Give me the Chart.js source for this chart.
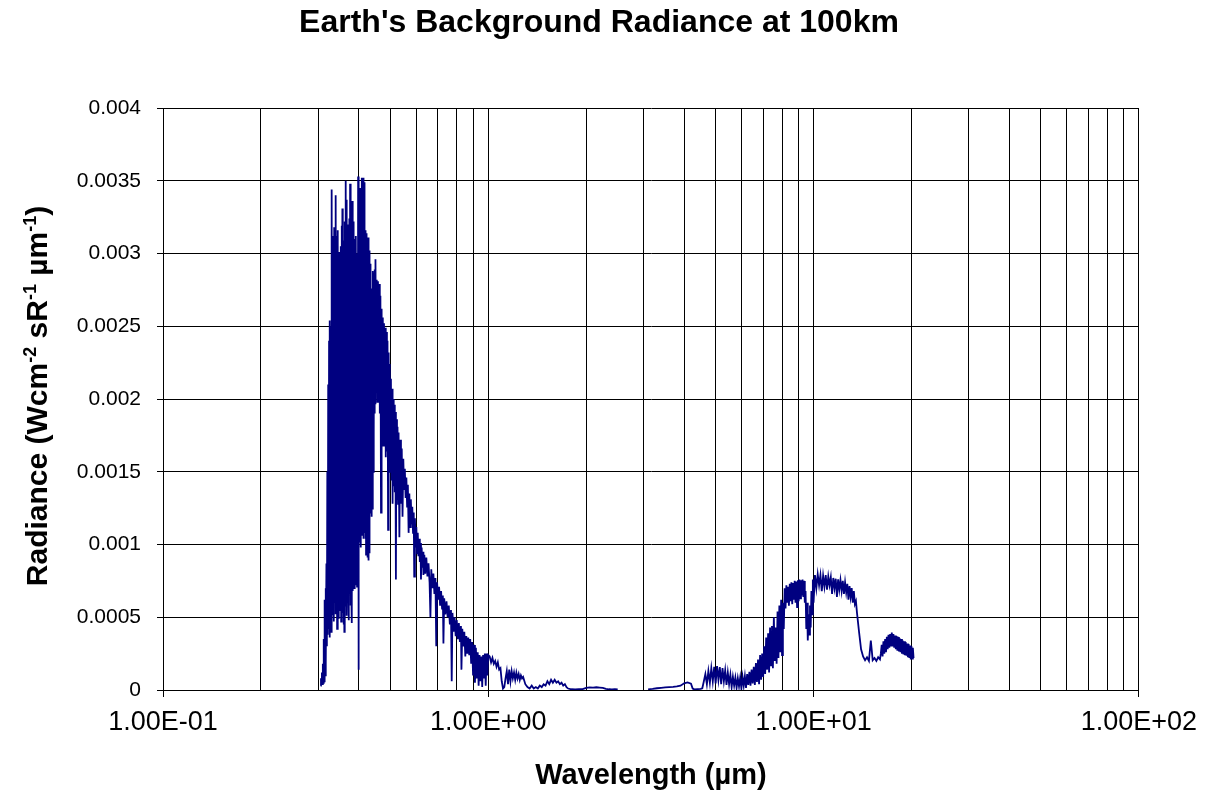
<!DOCTYPE html>
<html>
<head>
<meta charset="utf-8">
<title>Earth's Background Radiance at 100km</title>
<script src="https://cdn.jsdelivr.net/npm/chart.js@4/dist/chart.umd.min.js"></script>
<style>
  html, body { margin: 0; padding: 0; background: #ffffff; }
  #wrap { width: 1206px; height: 793px; }
</style>
</head>
<body>
<div id="wrap"><canvas id="chart" width="1206" height="793"></canvas></div>
<script>
// ---- Spectrum samples: wavelength (µm) and radiance (W cm^-2 sR^-1 µm^-1) ----

// near-UV band, 1 nm sampling
const uvWavelength = [
  0.305,0.306,0.307,0.308,0.309,0.310,0.311,0.312,0.313,0.314,
  0.315,0.316,0.317,0.318,0.319,0.320,0.321,0.322,0.323,0.324,
  0.325,0.326,0.327,0.328,0.329,0.330,0.331,0.332,0.333,0.334,
  0.335,0.336,0.337,0.338,0.339,0.340,0.341,0.342,0.343,0.344,
  0.345,0.346,0.347,0.348,0.349,0.350,0.351,0.352,0.353,0.354,
  0.355,0.356,0.357,0.358,0.359,0.360,0.361,0.362,0.363,0.364,
  0.365,0.366,0.367,0.368,0.369,0.370,0.371,0.372,0.373,0.374,
  0.375,0.376,0.377,0.378,0.379,0.380,0.381,0.382,0.383,0.384,
  0.385,0.386,0.387,0.388,0.389,0.390,0.391,0.392,0.393,0.394,
  0.395,0.396,0.397,0.398,0.399,0.400,0.401,0.402,0.403,0.404,
  0.405,0.406,0.407,0.408,0.409,0.410,0.411,0.412,0.413,0.414,
  0.415,0.416,0.417,0.418,0.419,0.420,0.421,0.422,0.423,0.424,
  0.425,0.426,0.427,0.428,0.429,0.430,0.431,0.432,0.433,0.434,
  0.435,0.436,0.437,0.438,0.439,0.440,0.441,0.442,0.443,0.444,
  0.445,0.446,0.447,0.448,0.449,0.450
];
const uvRadiance = [
  0.00003,0.00008,0.00005,0.00012,0.00004,0.00018,0.00005,0.00035,0.00006,0.00062,
  0.00010,0.00070,0.00018,0.00087,0.00030,0.00150,0.00038,0.00210,0.00042,0.00240,
  0.00036,0.00254,0.00044,0.00250,0.00040,0.00344,0.00052,0.00312,0.00058,0.00306,
  0.00047,0.00318,0.00060,0.00296,0.00052,0.00340,0.00055,0.00312,0.00042,0.00316,
  0.00058,0.00298,0.00049,0.00301,0.00062,0.00292,0.00055,0.00305,0.00047,0.00319,
  0.00061,0.00331,0.00053,0.00298,0.00045,0.00309,0.00040,0.00322,0.00058,0.00350,
  0.00066,0.00337,0.00051,0.00320,0.00063,0.00297,0.00072,0.00318,0.00048,0.00324,
  0.00066,0.00348,0.00058,0.00329,0.00071,0.00333,0.00046,0.00336,0.00068,0.00322,
  0.00074,0.00230,0.00070,0.00310,0.00088,0.00304,0.00072,0.00312,0.00079,0.00300,
  0.00071,0.00296,0.00084,0.00353,0.00014,0.00345,0.00102,0.00342,0.00108,0.00345,
  0.00098,0.00336,0.00112,0.00352,0.00106,0.00347,0.00110,0.00352,0.00104,0.00341,
  0.00115,0.00349,0.00108,0.00316,0.00104,0.00309,0.00093,0.00314,0.00097,0.00311,
  0.00091,0.00306,0.00102,0.00311,0.00089,0.00302,0.00094,0.00296,0.00122,0.00293,
  0.00128,0.00274,0.00119,0.00271,0.00131,0.00276,0.00124,0.00288,0.00150,0.00284,
  0.00176,0.00287,0.00190,0.00289,0.00197,0.00296
];

// blue band, 2 nm sampling
const blueWavelength = [
  0.452,0.454,0.456,0.458,0.460,0.462,0.464,0.466,0.468,0.470,
  0.472,0.474,0.476,0.478,0.480,0.482,0.484,0.486,0.488,0.490,
  0.492,0.494,0.496,0.498,0.500,0.502,0.504,0.506,0.508,0.510,
  0.512,0.514,0.516,0.518,0.520,0.522,0.524,0.526,0.528,0.530
];
const blueRadiance = [
  0.00205,0.00282,0.00198,0.00281,0.00203,0.00279,0.00190,0.00271,0.00122,0.00262,
  0.00176,0.00256,0.00168,0.00252,0.00172,0.00249,0.00160,0.00246,0.00164,0.00240,
  0.00110,0.00232,0.00156,0.00224,0.00150,0.00214,0.00144,0.00207,0.00128,0.00200,
  0.00140,0.00196,0.00136,0.00191,0.00076,0.00186,0.00131,0.00181,0.00128,0.00177
];

// visible to 1 µm
const visWavelength = [
  0.533,0.536,0.539,0.542,0.545,0.548,0.551,0.554,0.557,0.560,
  0.563,0.566,0.569,0.572,0.575,0.578,0.581,0.584,0.587,0.590,
  0.592,0.595,0.598,0.601,0.604,0.607,0.610,0.613,0.616,0.619,
  0.621,0.624,0.627,0.630,0.632,0.636,0.640,0.645,0.650,0.655,
  0.660,0.664,0.668,0.673,0.678,0.683,0.688,0.692,0.696,0.701,
  0.706,0.711,0.716,0.721,0.725,0.728,0.732,0.738,0.744,0.750,
  0.756,0.762,0.768,0.772,0.776,0.782,0.788,0.794,0.800,0.806,
  0.812,0.818,0.824,0.827,0.832,0.838,0.844,0.850,0.856,0.862,
  0.868,0.874,0.880,0.886,0.892,0.898,0.904,0.910,0.916,0.922,
  0.928,0.934,0.940,0.946,0.952,0.958,0.964,0.970,0.976,0.982,
  0.988,0.994,1.000
];
const visRadiance = [
  0.00105,0.00172,0.00128,0.00166,0.00119,0.00159,0.00138,0.00152,0.00132,0.00146,
  0.00126,0.00141,0.00108,0.00135,0.00112,0.00131,0.00114,0.00126,0.00108,0.00122,
  0.00078,0.00118,0.00098,0.00112,0.00094,0.00108,0.00092,0.00104,0.00088,0.00101,
  0.00076,0.00098,0.00084,0.00095,0.00079,0.00093,0.00080,0.00091,0.00078,0.00087,
  0.00074,0.00050,0.00083,0.00070,0.00080,0.00066,0.00077,0.00030,0.00074,0.00062,
  0.00071,0.00058,0.00068,0.00056,0.00065,0.00032,0.00063,0.00052,0.00061,0.00050,
  0.00058,0.00045,0.00055,0.00006,0.00053,0.00040,0.00050,0.00037,0.00048,0.00035,
  0.00046,0.00033,0.00044,0.00014,0.00042,0.00030,0.00040,0.00023,0.00037,0.00025,
  0.00036,0.00024,0.00035,0.00018,0.00033,0.00010,0.00031,0.00005,0.00029,0.00008,
  0.00026,0.00003,0.00024,0.00006,0.00023,0.00002,0.00024,0.00008,0.00025,0.00003,
  0.00025,0.00010,0.00024
];

// short-wave infrared
const swirWavelength = [
  1.01,1.02,1.03,1.04,1.05,1.06,1.07,1.08,1.09,1.10,
  1.11,1.12,1.13,1.14,1.15,1.16,1.17,1.18,1.19,1.20,
  1.21,1.22,1.23,1.24,1.25,1.26,1.27,1.28,1.30,1.32,
  1.34,1.36,1.38,1.40,1.42,1.44,1.46,1.48,1.50,1.52,
  1.54,1.56,1.58,1.60,1.62,1.64,1.66,1.68,1.70,1.72,
  1.74,1.76,1.80,1.85,1.90,1.95,2.00,2.05,2.10,2.15,
  2.20,2.25,2.30,2.35,2.40,2.45,2.50
];
const swirRadiance = [
  0.00023,0.00019,0.00022,0.00018,0.00020,0.00016,0.00019,0.00014,0.00015,0.00006,
  0.00001,0.00002,0.00008,0.00013,0.00004,0.00014,0.00006,0.00013,0.00008,0.00012,
  0.00007,0.00012,0.00008,0.00011,0.00007,0.00010,0.00008,0.00009,0.00004,0.00002,
  0.00001,0.00003,0.00001,0.00002,0.00001,0.00003,0.00002,0.00004,0.00003,0.00006,
  0.00004,0.00007,0.00005,0.00007,0.00005,0.00006,0.00004,0.00005,0.00003,0.00004,
  0.00002,0.00001,0.000005,0.000004,0.000005,0.000006,0.000015,0.000018,0.000016,0.000019,
  0.000017,0.000014,0.000008,0.000005,0.000004,0.000005,0.000004
];

// mid-wave infrared
const mwirWavelength = [
  3.1,3.2,3.3,3.4,3.5,3.6,3.7,3.8,3.9,4.0,
  4.1,4.2,4.25,4.3,4.4,4.5,4.55,4.6,4.65,4.7,
  4.75,4.8,4.85,4.9,4.95,5.0,5.05,5.1,5.15,5.2,
  5.25,5.3,5.35,5.4,5.45,5.5,5.55,5.6,5.65,5.7,
  5.75,5.8,5.85,5.9,5.95,6.0,6.05,6.1,6.15,6.2,
  6.25,6.3,6.35,6.4,6.45,6.5,6.55,6.6,6.65,6.7,
  6.75,6.8,6.85,6.9,6.95,7.0,7.05,7.1,7.15,7.2,
  7.25,7.3,7.35,7.4,7.45,7.5,7.55,7.6,7.65,7.7,
  7.75,7.8,7.85,7.9,7.95,8.0,8.05,8.1,8.15,8.2,
  8.25,8.3,8.35,8.4,8.45,8.5,8.55,8.6,8.65,8.7,
  8.75,8.8,8.85,8.9,8.95,9.0,9.05,9.1,9.15,9.2,
  9.25,9.3,9.35,9.4,9.45,9.5,9.55,9.6,9.65,9.7,
  9.75,9.8,9.85,9.9,9.95,10.0
];
const mwirRadiance = [
  0.000005,0.000008,0.000012,0.000015,0.000018,0.000020,0.000022,0.000025,0.000030,0.000046,
  0.000052,0.000044,0.000010,0.000004,0.000006,0.000008,0.000012,0.000060,0.000110,0.000040,
  0.000130,0.000050,0.000150,0.000060,0.000160,0.000045,0.000165,0.000070,0.000158,0.000040,
  0.000150,0.000060,0.000135,0.000035,0.000120,0.000040,0.000105,0.000020,0.000090,0.000030,
  0.000085,0.000015,0.000080,0.000025,0.000085,0.000010,0.000090,0.000030,0.000095,0.000015,
  0.000110,0.000035,0.000125,0.000030,0.000140,0.000045,0.000160,0.000035,0.000185,0.000055,
  0.000210,0.000040,0.000240,0.000070,0.000250,0.000090,0.000300,0.000110,0.000360,0.000140,
  0.000390,0.000120,0.000430,0.000170,0.000440,0.000150,0.000500,0.000200,0.000430,0.000180,
  0.000540,0.000220,0.000580,0.000260,0.000620,0.000240,0.000600,0.000420,0.000700,0.000560,
  0.000720,0.000600,0.000710,0.000580,0.000730,0.000610,0.000740,0.000590,0.000735,0.000620,
  0.000750,0.000600,0.000745,0.000570,0.000755,0.000610,0.000760,0.000630,0.000755,0.000650,
  0.000760,0.000640,0.000750,0.000600,0.000680,0.000420,0.000600,0.000340,0.000520,0.000380,
  0.000580,0.000430,0.000680,0.000520,0.000760,0.000600
];

// long-wave (thermal) infrared
const lwirWavelength = [
  10.1,10.2,10.3,10.4,10.5,10.6,10.7,10.8,10.9,11.0,
  11.1,11.2,11.3,11.4,11.5,11.6,11.7,11.8,11.9,12.0,
  12.1,12.2,12.3,12.4,12.5,12.6,12.7,12.8,12.9,13.0,
  13.1,13.2,13.3,13.4,13.5,13.6,13.8,14.0,14.2,14.4,
  14.6,14.8,15.0,15.2,15.4,15.6,15.8,16.0,16.1,16.2,
  16.3,16.4,16.5,16.6,16.7,16.8,16.9,17.0,17.1,17.2,
  17.3,17.4,17.5,17.6,17.7,17.8,17.9,18.0,18.1,18.2,
  18.3,18.4,18.5,18.6,18.7,18.8,18.9,19.0,19.1,19.2,
  19.3,19.4,19.5,19.6,19.7,19.8,19.9,20.0,20.1,20.2,
  20.3
];
const lwirRadiance = [
  0.000790,0.000700,0.000795,0.000720,0.000790,0.000680,0.000785,0.000710,0.000790,0.000690,
  0.000780,0.000720,0.000775,0.000660,0.000770,0.000700,0.000765,0.000640,0.000760,0.000690,
  0.000755,0.000680,0.000750,0.000660,0.000740,0.000670,0.000730,0.000620,0.000715,0.000640,
  0.000700,0.000600,0.000680,0.000590,0.000610,0.000530,0.000400,0.000280,0.000230,0.000205,
  0.000225,0.000200,0.000340,0.000205,0.000220,0.000200,0.000225,0.000210,0.000250,0.000310,
  0.000230,0.000335,0.000250,0.000350,0.000260,0.000365,0.000280,0.000380,0.000290,0.000385,
  0.000300,0.000395,0.000300,0.000385,0.000290,0.000375,0.000280,0.000370,0.000270,0.000365,
  0.000265,0.000355,0.000260,0.000350,0.000250,0.000340,0.000245,0.000335,0.000240,0.000330,
  0.000235,0.000320,0.000225,0.000315,0.000220,0.000305,0.000210,0.000300,0.000215,0.000290,
  0.000220
];

// ---- Axis ticks ----
const xGridValues = [0.1,0.2,0.3,0.4,0.5,0.6,0.7,0.8,0.9,
                     1,2,3,4,5,6,7,8,9,
                     10,20,30,40,50,60,70,80,90,100];
const xMajorTicks = [0.1, 1, 10, 100];
const xTickLabels = ['1.00E-01', '1.00E+00', '1.00E+01', '1.00E+02'];
const yTickValues = [0, 0.0005, 0.001, 0.0015, 0.002, 0.0025, 0.003, 0.0035, 0.004];
const yTickLabels = ['0', '0.0005', '0.001', '0.0015', '0.002', '0.0025', '0.003', '0.0035', '0.004'];

// ---- Build the point list ----
const FONT = "'Liberation Sans', Arial, Helvetica, sans-serif";
function toPoints(wl, rad) {
  const n = Math.min(wl.length, rad.length);
  const out = [];
  for (let i = 0; i < n; i++) out.push({ x: wl[i], y: rad[i] });
  return out;
}
const spectrum = [
  ...toPoints(uvWavelength, uvRadiance),
  ...toPoints(blueWavelength, blueRadiance),
  ...toPoints(visWavelength, visRadiance),
  ...toPoints(swirWavelength, swirRadiance),
  { x: 2.8, y: null },               // no data between the two bands
  ...toPoints(mwirWavelength, mwirRadiance),
  ...toPoints(lwirWavelength, lwirRadiance)
];

// Page title and rotated y-axis title (with superscript exponents)
const chartTexts = {
  id: 'chartTexts',
  afterDraw(chart) {
    const ctx = chart.ctx;
    ctx.save();
    ctx.fillStyle = '#000000';

    // title, centred on the page
    ctx.font = 'bold 32px ' + FONT;
    ctx.textAlign = 'center';
    ctx.textBaseline = 'middle';
    ctx.fillText("Earth's Background Radiance at 100km", 599, 23);

    // y-axis title
    const parts = [
      ['Radiance (Wcm', false], ['-2', true], [' sR', false], ['-1', true],
      [' \u00b5m', false], ['-1', true], [')', false]
    ];
    const mainFont = 'bold 30px ' + FONT;
    const supFont = 'bold 18px ' + FONT;
    let total = 0;
    const widths = parts.map(([t, sup]) => {
      ctx.font = sup ? supFont : mainFont;
      const w = ctx.measureText(t).width;
      total += w;
      return w;
    });
    const cy = (chart.chartArea.top + chart.chartArea.bottom) / 2 - 3;
    ctx.translate(47, cy);
    ctx.rotate(-Math.PI / 2);
    ctx.textBaseline = 'alphabetic';
    ctx.textAlign = 'left';
    let x = -total / 2;
    parts.forEach(([t, sup], i) => {
      ctx.font = sup ? supFont : mainFont;
      ctx.fillText(t, x, sup ? -11 : 0);
      x += widths[i];
    });
    ctx.restore();
  }
};

new Chart(document.getElementById('chart'), {
  type: 'line',
  data: {
    datasets: [{
      label: 'Radiance',
      data: spectrum,
      borderColor: '#000080',
      backgroundColor: '#000080',
      borderWidth: 1.8,
      pointRadius: 0,
      tension: 0,
      spanGaps: false,
      fill: false
    }]
  },
  options: {
    responsive: false,
    animation: false,
    devicePixelRatio: 1,
    parsing: false,
    layout: { padding: { left: 0, right: 67, top: 108, bottom: 0 } },
    plugins: {
      legend: { display: false },
      tooltip: { enabled: false },
      title: { display: false }
    },
    scales: {
      x: {
        type: 'logarithmic',
        min: 0.1,
        max: 100,
        afterBuildTicks: (s) => { s.ticks = xGridValues.map(v => ({ value: v, major: xMajorTicks.includes(v) })); },
        afterFit: (s) => { s.height = 103; },
        ticks: {
          autoSkip: false,
          maxRotation: 0,
          minRotation: 0,
          padding: 9,
          color: '#000000',
          font: { family: FONT, size: 27 },
          callback: (v) => { const i = xMajorTicks.indexOf(v); return i >= 0 ? xTickLabels[i] : ''; }
        },
        grid: {
          color: '#000000',
          lineWidth: 1,
          tickLength: 7,
          tickColor: (c) => (c.tick && xMajorTicks.includes(c.tick.value)) ? '#000000' : 'rgba(0,0,0,0)'
        },
        border: { color: '#000000', width: 1 },
        title: {
          display: true,
          text: 'Wavelength (\u00b5m)',
          color: '#000000',
          font: { family: FONT, size: 29, weight: 'bold' },
          padding: { top: 0, bottom: 0 }
        }
      },
      y: {
        type: 'linear',
        min: 0,
        max: 0.004,
        afterBuildTicks: (s) => { s.ticks = yTickValues.map(v => ({ value: v })); },
        afterFit: (s) => { s.width = 163; },
        ticks: {
          padding: 16,
          color: '#000000',
          font: { family: FONT, size: 21 },
          callback: (v, i) => yTickLabels[i]
        },
        grid: { color: '#000000', lineWidth: 1, tickLength: 6 },
        border: { color: '#000000', width: 1 }
      }
    }
  },
  plugins: [chartTexts]
});
</script>
</body>
</html>
